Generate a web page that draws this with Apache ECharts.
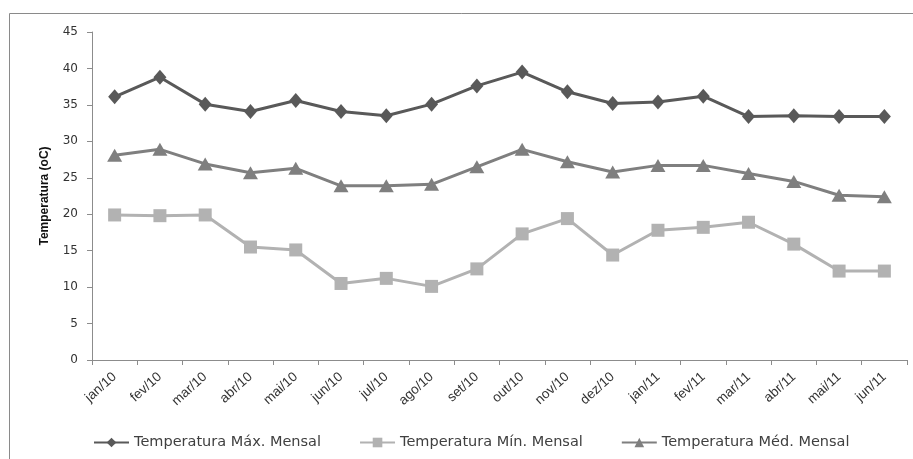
<!DOCTYPE html>
<html>
<head>
<meta charset="utf-8">
<script src="https://cdn.jsdelivr.net/npm/echarts@6/dist/echarts.min.js"></script>
<style>
  html, body { margin: 0; padding: 0; background: #fff; }
  #chart { width: 913px; height: 459px; }
</style>
</head>
<body>
<div id="chart"></div>
<script>
// Monthly temperatures, Jan/2010 – Jun/2011
const months = ['jan/10','fev/10','mar/10','abr/10','mai/10','jun/10','jul/10','ago/10','set/10',
                'out/10','nov/10','dez/10','jan/11','fev/11','mar/11','abr/11','mai/11','jun/11'];
const tempMax = [36.1, 38.8, 35.1, 34.1, 35.6, 34.1, 33.5, 35.1, 37.6, 39.5, 36.8, 35.2, 35.4, 36.2, 33.4, 33.5, 33.4, 33.4];
const tempMin = [19.9, 19.8, 19.9, 15.5, 15.1, 10.5, 11.2, 10.1, 12.5, 17.3, 19.4, 14.4, 17.8, 18.2, 18.9, 15.9, 12.2, 12.2];
const tempMed = [28.1, 28.9, 26.9, 25.7, 26.3, 23.9, 23.9, 24.1, 26.5, 28.9, 27.2, 25.8, 26.7, 26.7, 25.6, 24.5, 22.6, 22.4];
const seriesNames = ['Temperatura Máx. Mensal', 'Temperatura Mín. Mensal', 'Temperatura Méd. Mensal'];

const chart = echarts.init(document.getElementById('chart'), null, { renderer: 'canvas' });

const axisGray = '#8c8c8c';

chart.setOption({
  backgroundColor: '#ffffff',
  animation: false,
  graphic: [{
    type: 'polyline',
    shape: { points: [[9.5, 470], [9.5, 13.5], [920, 13.5]] },
    style: { stroke: '#8a8a8a', lineWidth: 1, fill: null }
  }],
  grid: { left: 92, right: 6, top: 32, bottom: 99 },
  legend: {
    left: 88, top: 430,
    itemWidth: 35, itemHeight: 12, itemGap: 38,
    textStyle: { fontFamily: 'DejaVu Sans', fontSize: 14.5, color: '#404040' },
    data: seriesNames
  },
  xAxis: {
    type: 'category',
    data: months,
    boundaryGap: true,
    axisLine: { lineStyle: { color: axisGray, width: 1 } },
    axisTick: { show: true, length: 5, lineStyle: { color: axisGray } },
    axisLabel: {
      rotate: 42, interval: 0, margin: 15,
      fontFamily: 'Liberation Sans', fontSize: 13.5, color: '#333'
    }
  },
  yAxis: {
    type: 'value',
    min: 0, max: 45, interval: 5,
    name: 'Temperatura (oC)',
    nameLocation: 'middle',
    nameGap: 41,
    nameTextStyle: { fontFamily: 'Liberation Sans', fontWeight: 'bold', fontSize: 12, color: '#111' },
    axisLine: { show: true, lineStyle: { color: axisGray, width: 1 } },
    axisTick: { show: true, length: 5, lineStyle: { color: axisGray } },
    splitLine: { show: false },
    axisLabel: { fontFamily: 'DejaVu Sans', fontSize: 12, color: '#333', margin: 14 }
  },
  series: [
    {
      name: seriesNames[0], type: 'line', data: tempMax,
      symbol: 'diamond', symbolSize: [13, 15],
      lineStyle: { color: '#595959', width: 3 },
      itemStyle: { color: '#595959' }
    },
    {
      name: seriesNames[1], type: 'line', data: tempMin,
      symbol: 'rect', symbolSize: 13,
      lineStyle: { color: '#b2b2b2', width: 3 },
      itemStyle: { color: '#b2b2b2' }
    },
    {
      name: seriesNames[2], type: 'line', data: tempMed,
      symbol: 'triangle', symbolSize: [15, 13],
      lineStyle: { color: '#7f7f7f', width: 3 },
      itemStyle: { color: '#7f7f7f' }
    }
  ]
});
</script>
</body>
</html>
